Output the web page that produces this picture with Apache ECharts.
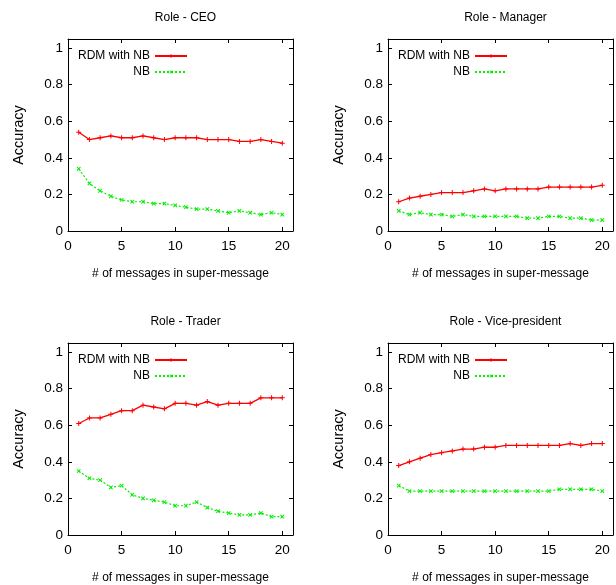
<!DOCTYPE html>
<html>
<head>
<meta charset="utf-8">
<script src="https://cdn.jsdelivr.net/npm/echarts@6/dist/echarts.min.js"></script>
<style>
  html, body { margin: 0; padding: 0; background: #fff; }
  #chart { width: 616px; height: 585px; }
</style>
</head>
<body>
<div id="chart"></div>
<script>
var msgCounts = [1, 2, 3, 4, 5, 6, 7, 8, 9, 10, 11, 12, 13, 14, 15, 16, 17, 18, 19, 20];
var roles = ['CEO', 'Manager', 'Trader', 'Vice-president'];

var ceoRdm = [0.54, 0.50, 0.51, 0.52, 0.51, 0.51, 0.52, 0.51, 0.50, 0.51, 0.51, 0.51, 0.50, 0.50, 0.50, 0.49, 0.49, 0.50, 0.49, 0.48];
var ceoNb = [0.34, 0.26, 0.22, 0.19, 0.17, 0.16, 0.16, 0.15, 0.15, 0.14, 0.13, 0.12, 0.12, 0.11, 0.10, 0.11, 0.10, 0.09, 0.10, 0.09];
var managerRdm = [0.16, 0.18, 0.19, 0.20, 0.21, 0.21, 0.21, 0.22, 0.23, 0.22, 0.23, 0.23, 0.23, 0.23, 0.24, 0.24, 0.24, 0.24, 0.24, 0.25];
var managerNb = [0.11, 0.09, 0.10, 0.09, 0.09, 0.08, 0.09, 0.08, 0.08, 0.08, 0.08, 0.08, 0.07, 0.07, 0.08, 0.08, 0.07, 0.07, 0.06, 0.06];
var traderRdm = [0.61, 0.64, 0.64, 0.66, 0.68, 0.68, 0.71, 0.70, 0.69, 0.72, 0.72, 0.71, 0.73, 0.71, 0.72, 0.72, 0.72, 0.75, 0.75, 0.75];
var traderNb = [0.35, 0.31, 0.30, 0.26, 0.27, 0.22, 0.20, 0.19, 0.18, 0.16, 0.16, 0.18, 0.15, 0.13, 0.12, 0.11, 0.11, 0.12, 0.10, 0.10];
var vpRdm = [0.38, 0.40, 0.42, 0.44, 0.45, 0.46, 0.47, 0.47, 0.48, 0.48, 0.49, 0.49, 0.49, 0.49, 0.49, 0.49, 0.50, 0.49, 0.50, 0.50];
var vpNb = [0.27, 0.24, 0.24, 0.24, 0.24, 0.24, 0.24, 0.24, 0.24, 0.24, 0.24, 0.24, 0.24, 0.24, 0.24, 0.25, 0.25, 0.25, 0.25, 0.24];

var xTicks = [0, 5, 10, 15, 20];
var yTicks = [0, 0.2, 0.4, 0.6, 0.8, 1];

var rdmSeries = [ceoRdm, managerRdm, traderRdm, vpRdm];
var nbSeries = [ceoNb, managerNb, traderNb, vpNb];

var font = '"Liberation Sans", Arial, sans-serif';
var plusPath = 'path://M4,0H6V4H10V6H6V10H4V6H0V4H4Z';

// panel placement
var boxes = [
    { left: 68, top: 39 },
    { left: 388, top: 39 },
    { left: 68, top: 343 },
    { left: 388, top: 343 }
];
var gw = 225, gh = 192;

function pairs(ys) {
    return msgCounts.map(function (x, i) { return [x, ys[i]]; });
}

var option = {
    animation: false,
    backgroundColor: '#fff',
    textStyle: { fontFamily: font, color: '#000' },
    title: [], legend: [], grid: [], xAxis: [], yAxis: [], series: []
};

boxes.forEach(function (b, i) {
    option.grid.push({ left: b.left, top: b.top, width: gw, height: gh, containLabel: false });
    option.title.push({
        text: 'Role - ' + roles[i],
        left: b.left + gw / 2, top: b.top - 32, textAlign: 'center',
        textStyle: { fontFamily: font, fontSize: 12, fontWeight: 'normal', color: '#000' }
    });
    option.legend.push({
        orient: 'vertical', align: 'right',
        right: 616 - (b.left + 125), top: b.top + 5,
        itemWidth: 32, itemHeight: 5, itemGap: 2,
        textStyle: { fontFamily: font, fontSize: 12, color: '#000', lineHeight: 14 },
        data: ['RDM with NB', 'NB']
    });
    var axisBase = {
        type: 'value', gridIndex: i,
        axisLine: { show: true, onZero: false, lineStyle: { color: '#000', width: 1 } },
        axisTick: { show: true, inside: true, length: 4, lineStyle: { color: '#000' } },
        splitLine: { show: false }
    };
    var xa = Object.assign({}, axisBase, {
        min: 0, max: 21, interval: 5, position: 'bottom',
        name: '# of messages in super-message', nameLocation: 'middle', nameGap: 37,
        nameTextStyle: { fontFamily: font, fontSize: 12, color: '#000' },
        axisLabel: {
            fontFamily: font, fontSize: 13.5, color: '#000', margin: 8, showMaxLabel: false,
            formatter: function (v) { return xTicks.indexOf(v) >= 0 ? String(v) : ''; }
        }
    });
    var xTop = Object.assign({}, axisBase, {
        min: 0, max: 21, interval: 5, position: 'top', axisLabel: { show: false }
    });
    var ya = Object.assign({}, axisBase, {
        min: 0, max: 1.05, interval: 0.2, position: 'left',
        name: 'Accuracy', nameLocation: 'middle', nameGap: 42,
        nameTextStyle: { fontFamily: font, fontSize: 14.5, color: '#000' },
        axisLabel: {
            fontFamily: font, fontSize: 13.5, color: '#000', margin: 5, showMaxLabel: false,
            formatter: function (v) {
                var r = Math.round(v * 10) / 10;
                return yTicks.indexOf(r) >= 0 && Math.abs(v - r) < 1e-6 ? String(r) : '';
            }
        }
    });
    var yRight = Object.assign({}, axisBase, {
        min: 0, max: 1.05, interval: 0.2, position: 'right', axisLabel: { show: false }
    });
    option.xAxis.push(xa, xTop);
    option.yAxis.push(ya, yRight);

    option.series.push({
        name: 'RDM with NB', type: 'line',
        xAxisIndex: i * 2, yAxisIndex: i * 2,
        data: pairs(rdmSeries[i]),
        symbol: plusPath, symbolSize: 5,
        itemStyle: { color: '#ff0000' },
        lineStyle: { color: '#ff0000', width: 1.3 }
    });
    option.series.push({
        name: 'NB', type: 'line',
        xAxisIndex: i * 2, yAxisIndex: i * 2,
        data: pairs(nbSeries[i]),
        symbol: plusPath, symbolSize: 5, symbolRotate: 45,
        itemStyle: { color: '#00ee00' },
        lineStyle: { color: '#00ee00', width: 1.2, type: [2, 2] }
    });
});

var myChart = echarts.init(document.getElementById('chart'));
myChart.setOption(option);
</script>
</body>
</html>
